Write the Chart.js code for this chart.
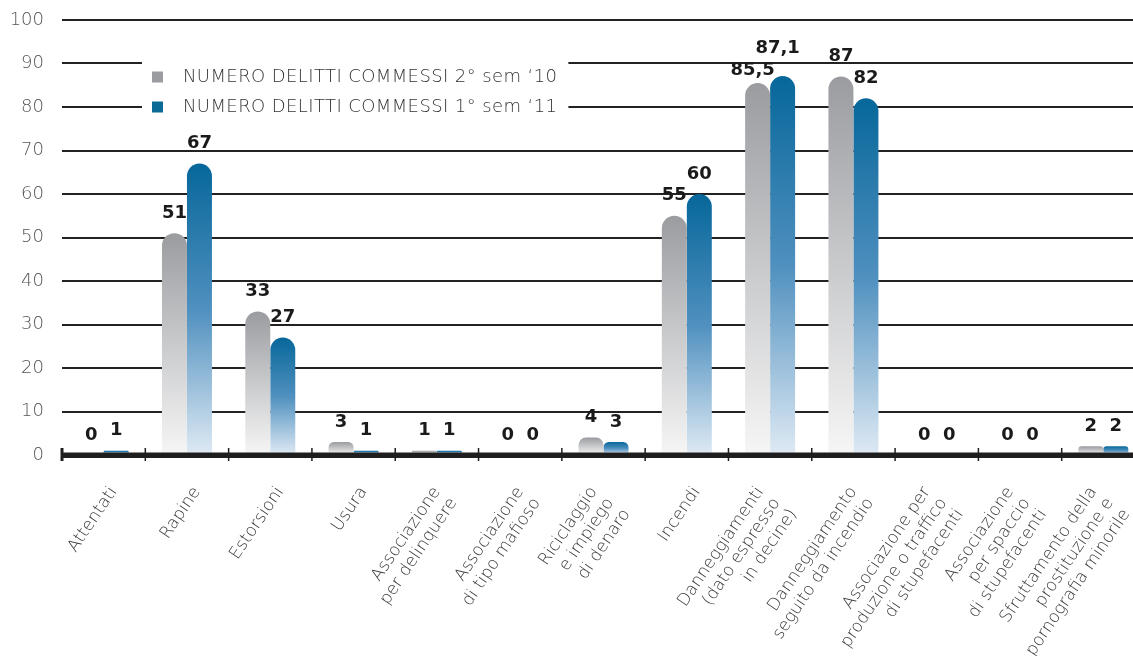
<!DOCTYPE html>
<html>
<head>
<meta charset="utf-8">
<script src="https://cdn.jsdelivr.net/npm/chart.js@4/dist/chart.umd.min.js"></script>
<style>
html,body{margin:0;padding:0;background:#fff;overflow:hidden;}
#wrap{width:1133px;height:656px;position:relative;overflow:hidden;}
canvas{display:block;}
</style>
</head>
<body>
<div id="wrap"><canvas id="c" width="1145" height="656"></canvas></div>
<script>
// ---- data ----
const categories = [
  'Attentati',
  'Rapine',
  'Estorsioni',
  'Usura',
  ['Associazione', 'per delinquere'],
  ['Associazione', 'di tipo mafioso'],
  ['Riciclaggio', 'e impiego', 'di denaro'],
  'Incendi',
  ['Danneggiamenti', '(dato espresso', 'in decine)'],
  ['Danneggiamento', 'seguito da incendio'],
  ['Associazione per', 'produzione o traffico', 'di stupefacenti'],
  ['Associazione', 'per spaccio', 'di stupefacenti'],
  ['Sfruttamento della', 'prostituzione e', 'pornografia minorile']
];
const seriesNames = ['NUMERO DELITTI COMMESSI 2° sem \u201810', 'NUMERO DELITTI COMMESSI 1° sem \u201811'];
const sem2_2010 = [0, 51, 33, 3, 1, 0, 4, 55, 85.5, 87, 0, 0, 2];
const sem1_2011 = [1, 67, 27, 1, 1, 0, 3, 60, 87.1, 82, 0, 0, 2];
const yTicks = [0, 10, 20, 30, 40, 50, 60, 70, 80, 90, 100];

// ---- styles ----
const gradStops = [
  ['#9a9ca0', '#c9cacc', '#f6f6f6'],
  ['#07679a', '#4f90bf', '#dfeaf4']
];
const legendColors = ['#9a9ca0', '#0b6a96'];
const labelShift = { 0: { 8: [-5, 7] }, 1: { 8: [-5, -8] } };
const FONT = '"DejaVu Sans", "Liberation Sans", sans-serif';

function barFill(di) {
  return function (c) {
    const chart = c.chart;
    const stops = gradStops[di];
    if (!chart.chartArea || c.type !== 'data') return stops[0];
    const ys = chart.scales.y;
    const v = c.raw;
    const top = ys.getPixelForValue(v);
    const base = ys.getPixelForValue(0);
    if (!isFinite(top) || base - top < 1) return stops[0];
    const g = chart.ctx.createLinearGradient(0, top, 0, base);
    g.addColorStop(0, stops[0]);
    g.addColorStop(0.5, stops[1]);
    g.addColorStop(1, stops[2]);
    return g;
  };
}

function fmt(v) { return String(v).replace('.', ','); }

const axisPlugin = {
  id: 'axisPlugin',
  afterDatasetsDraw(chart) {
    const ctx = chart.ctx, xs = chart.scales.x, ys = chart.scales.y, ca = chart.chartArea;
    const y0 = ys.getPixelForValue(0);
    ctx.save();
    ctx.strokeStyle = '#1e1e1e';
    ctx.lineWidth = 5;
    ctx.beginPath();
    ctx.moveTo(ca.left, y0);
    ctx.lineTo(ca.right, y0);
    ctx.stroke();
    const step = xs.getPixelForValue(1) - xs.getPixelForValue(0);
    for (let i = 0; i <= categories.length; i++) {
      const x = xs.getPixelForValue(0) - step / 2 + i * step;
      ctx.lineWidth = i === 0 ? 3 : 1.5;
      ctx.beginPath();
      ctx.moveTo(x, y0 - 7);
      ctx.lineTo(x, y0 + 6);
      ctx.stroke();
    }
    ctx.restore();
  }
};

const xLabelPlugin = {
  id: 'xLabelPlugin',
  afterDraw(chart) {
    const ctx = chart.ctx, xs = chart.scales.x, ys = chart.scales.y;
    const y0 = ys.getPixelForValue(0);
    const ang = -56 * Math.PI / 180;
    const lh = 20;
    ctx.save();
    ctx.font = '300 17px ' + FONT;
    ctx.fillStyle = '#3a3a3a';
    ctx.textAlign = 'right';
    ctx.textBaseline = 'top';
    categories.forEach((lab, i) => {
      const lines = Array.isArray(lab) ? lab : [lab];
      const n = lines.length;
      const ax = xs.getPixelForValue(i) + 3 - 10 * (n - 1);
      const ay = y0 + 29;
      ctx.save();
      ctx.translate(ax, ay);
      ctx.rotate(ang);
      lines.forEach((t, k) => ctx.fillText(t, 0, k * lh));
      ctx.restore();
    });
    ctx.restore();
  }
};

const valuePlugin = {
  id: 'valuePlugin',
  afterDatasetsDraw(chart) {
    const ctx = chart.ctx;
    ctx.save();
    ctx.font = 'bold 18px ' + FONT;
    ctx.fillStyle = '#1a1a1a';
    ctx.textAlign = 'center';
    ctx.textBaseline = 'middle';
    chart.data.datasets.forEach((ds, di) => {
      const meta = chart.getDatasetMeta(di);
      meta.data.forEach((bar, i) => {
        const off = (labelShift[di] && labelShift[di][i]) || [0, 0];
        ctx.fillText(fmt(ds.data[i]), bar.x + off[0], bar.y - 20 + off[1]);
      });
    });
    ctx.restore();
  }
};

const legendPlugin = {
  id: 'legendPlugin',
  afterDraw(chart) {
    const ctx = chart.ctx, ca = chart.chartArea;
    const x0 = ca.left + 90;
    const rows = [ca.top + 57, ca.top + 87];
    ctx.save();
    ctx.font = '300 18px ' + FONT;
    try { ctx.letterSpacing = '0.4px'; } catch (e) {}
    const textX = x0 + 31;
    let maxW = 0;
    chart.data.datasets.forEach(ds => { maxW = Math.max(maxW, ctx.measureText(ds.label).width); });
    ctx.fillStyle = '#ffffff';
    ctx.fillRect(x0 - 10, rows[0] - 19, textX + maxW + 11 - (x0 - 10), rows[1] - rows[0] + 37);
    chart.data.datasets.forEach((ds, di) => {
      ctx.fillStyle = legendColors[di];
      ctx.fillRect(x0, rows[di] - 5.5, 11, 11);
      ctx.fillStyle = '#333';
      ctx.textAlign = 'left';
      ctx.textBaseline = 'middle';
      ctx.fillText(ds.label, textX, rows[di]);
    });
    ctx.restore();
  }
};

new Chart(document.getElementById('c'), {
  type: 'bar',
  data: {
    labels: categories,
    datasets: [
      { label: seriesNames[0], data: sem2_2010, backgroundColor: barFill(0) },
      { label: seriesNames[1], data: sem1_2011, backgroundColor: barFill(1) }
    ]
  },
  options: {
    responsive: false,
    animation: false,
    layout: { padding: { top: 20, right: 0, left: 0, bottom: 0 } },
    plugins: { legend: { display: false }, tooltip: { enabled: false } },
    datasets: {
      bar: {
        categoryPercentage: 0.6,
        barPercentage: 1,
        borderRadius: 13,
        borderSkipped: 'start'
      }
    },
    scales: {
      x: {
        grid: { display: false, drawTicks: false },
        border: { display: false },
        ticks: { display: false },
        afterFit: s => { s.height = 201; s.paddingLeft = 0; s.paddingRight = 0; }
      },
      y: {
        min: 0,
        max: 100,
        afterBuildTicks: s => { s.ticks = yTicks.map(v => ({ value: v })); },
        grid: {
          color: '#222',
          lineWidth: c => (c.tick && c.tick.value === 0 ? 5 : 2),
          drawTicks: false
        },
        border: { display: false },
        ticks: {
          padding: 18,
          color: '#555',
          font: { family: FONT, size: 18, weight: 300 }
        },
        afterFit: s => { s.width = 62; s.paddingTop = 0; s.paddingBottom = 0; }
      }
    }
  },
  plugins: [axisPlugin, valuePlugin, xLabelPlugin, legendPlugin]
});
</script>
</body>
</html>
